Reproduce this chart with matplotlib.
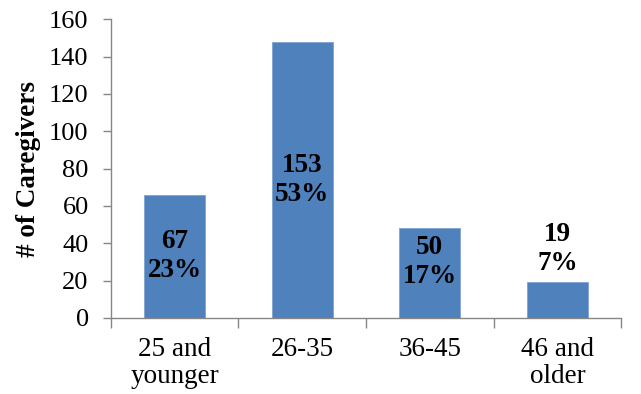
import matplotlib
matplotlib.use("Agg")
import matplotlib.pyplot as plt

# Data
categories = ["25 and\nyounger", "26-35", "36-45", "46 and\nolder"]
bar_heights = [66, 148, 48, 19]
counts = ["67", "153", "50", "19"]
percents = ["23%", "53%", "17%", "7%"]

# label placement (y in data units)
label_y = [33, 74, 30, 37]

plt.rcParams["font.family"] = ["Liberation Serif", "DejaVu Serif"]

fig = plt.figure(figsize=(6.41, 3.94), dpi=100)
ax = fig.add_axes([0.173, 0.193, 0.796, 0.758])

x = list(range(len(categories)))
ax.bar(x, bar_heights, width=0.48, color="#4F81BD", edgecolor="#7FA3D0", linewidth=0.6, zorder=2)

for i in x:
    ax.text(i, label_y[i], counts[i] + "\n" + percents[i], ha="center", va="center",
            fontsize=19.5, fontweight="bold", linespacing=1.2, zorder=3)

ax.set_xlim(-0.5, len(categories) - 0.5)
ax.set_ylim(0, 160)
ax.set_yticks(range(0, 161, 20))
ax.set_xticks(x)
ax.set_xticklabels(categories, fontsize=19.5, linespacing=1.1)
ax.set_xticks([i - 0.5 for i in range(len(categories) + 1)], minor=True)
ax.tick_params(axis="x", which="major", length=0, pad=14)
ax.tick_params(axis="x", which="minor", length=7, color="#868686", width=1)
ax.tick_params(axis="y", labelsize=19, length=6, color="#868686", width=1, pad=10)

for s in ["top", "right"]:
    ax.spines[s].set_visible(False)
for s in ["left", "bottom"]:
    ax.spines[s].set_color("#868686")
    ax.spines[s].set_linewidth(1)

ax.set_ylabel("# of Caregivers", fontsize=19.5, fontweight="bold", labelpad=6)

fig.savefig("out.png", dpi=100)
plt.close(fig)
